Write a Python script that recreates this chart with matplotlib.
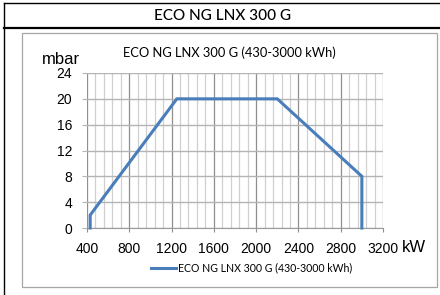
import numpy as np
import matplotlib
matplotlib.use("Agg")
import matplotlib.pyplot as plt
from matplotlib.lines import Line2D

# Data
series_name = "ECO NG LNX 300 G (430-3000 kWh)"
power_kw = [430, 430, 1250, 2200, 3000, 3000]
pressure_mbar = [0, 2, 20, 20, 8, 0]
x_ticks = [400, 800, 1200, 1600, 2000, 2400, 2800, 3200]
y_ticks = [0, 4, 8, 12, 16, 20, 24]
header = "ECO NG LNX 300 G"

W, H = 440, 295
fig = plt.figure(figsize=(W / 100, H / 100), dpi=100)

def fx(px):
    return px / W

def fy(py):
    return 1 - py / H

NARROW = ["Lato", "DejaVu Sans"]
ARIAL = ["Liberation Sans", "DejaVu Sans"]

# outer table lines
fig.add_artist(Line2D([fx(4), 1], [fy(3), fy(3)], color="black", lw=1.0, transform=fig.transFigure))
fig.add_artist(Line2D([fx(4), 1], [fy(28), fy(28)], color="black", lw=1.6, transform=fig.transFigure))
fig.add_artist(Line2D([fx(4), fx(4)], [fy(3), 0], color="black", lw=1.0, transform=fig.transFigure))
# chart area frame
fig.add_artist(plt.Rectangle((fx(22), fy(287)), fx(437 - 22), (287 - 33) / H, fill=False,
                             edgecolor="#a6a6a6", lw=0.9, transform=fig.transFigure))

fig.text(fx(223), fy(16), header, ha="center", va="center", fontsize=11, family=NARROW,
         color="black", weight="medium")

ax = fig.add_axes([fx(87), fy(228), fx(383 - 87), (228 - 73) / H])
ax.plot(power_kw, pressure_mbar, color="#4a7ebb", lw=2.2, solid_joinstyle="miter", zorder=5, clip_on=False)
ax.set_xlim(400, 3200)
ax.set_ylim(0, 24)
ax.set_xticks(x_ticks)
ax.set_xticks(np.arange(400, 3201, 80), minor=True)
ax.set_yticks(y_ticks)
ax.grid(which="minor", axis="x", color="#d0d0d0", lw=0.9)
ax.grid(which="major", axis="x", color="#8f8f8f", lw=0.9)
ax.grid(which="major", axis="y", color="#b4b4b4", lw=1.0)
for s in ax.spines.values():
    s.set_visible(False)
ax.spines["bottom"].set_visible(True)
ax.spines["bottom"].set_color("#9a9a9a")
ax.tick_params(axis="x", which="major", length=3, color="#8f8f8f", pad=7, labelsize=10)
ax.tick_params(axis="x", which="minor", length=0)
ax.tick_params(axis="y", which="major", length=3.6, color="#b4b4b4", pad=7, labelsize=10)
for lab in ax.get_xticklabels() + ax.get_yticklabels():
    lab.set_family(ARIAL)

fig.text(fx(61), fy(59), "mbar", ha="center", va="center", fontsize=12, family=ARIAL)
fig.text(fx(414), fy(248), "kW", ha="center", va="center", fontsize=12, family=ARIAL)
fig.text(fx(229), fy(53), series_name, ha="center", va="center", fontsize=9.3, family=NARROW)

# legend
fig.add_artist(Line2D([fx(151), fx(176)], [fy(268), fy(268)], color="#4a7ebb", lw=2.2, transform=fig.transFigure))
fig.text(fx(178), fy(268), series_name, ha="left", va="center", fontsize=7.6, family=NARROW)

fig.savefig("out.png", dpi=100)
